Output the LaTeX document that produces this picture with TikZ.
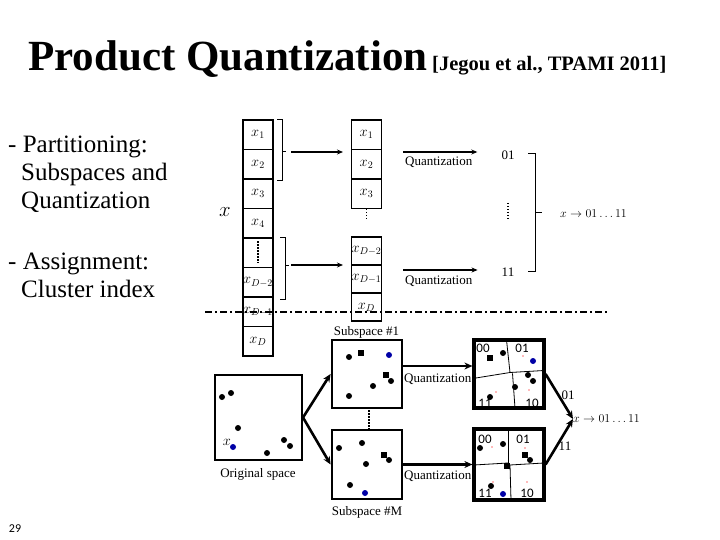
\documentclass[tikz,border=0pt]{standalone}
\usepackage{fontspec}
\setmainfont{Liberation Serif}
\newfontfamily\sansf{Carlito}
\usetikzlibrary{arrows.meta}
\begin{document}
\begin{tikzpicture}[x=1pt,y=-1pt,
 cell/.style={draw, line width=1.1pt, minimum width=30pt, inner sep=0pt, font=\fontsize{14}{14}\selectfont},
 thinarrow/.style={line width=1.6pt, -{Stealth[length=6pt,width=5pt]}},
 thickarrow/.style={line width=2.6pt, -{Stealth[length=8pt,width=7pt]}},
 lbl/.style={font=\fontsize{13}{13}\selectfont, inner sep=0pt},
 slbl/.style={font=\sansf\fontsize{13}{13}\selectfont, inner sep=0pt},
 bul/.style={font=\fontsize{25}{25}\selectfont, inner sep=0pt, anchor=base west},
 vdots/.style={line width=1.6pt, dash pattern=on 1.5pt off 1.5pt},
 brk/.style={line width=1pt},
 vor/.style={line width=0.8pt},
 spacebox/.style={draw, line width=2.8pt, inner sep=0pt},
]
\useasboundingbox (0,0) rectangle (720,540);
\def\pt#1{\fill (#1) circle (3pt);}
\def\sqp#1{\fill ([xshift=-2.8pt,yshift=-2.8pt]#1) rectangle ([xshift=2.8pt,yshift=2.8pt]#1);}
\def\bp#1{\fill[blue!65!black] (#1) circle (3pt);}
\def\rp#1{\fill[red!55] (#1) circle (0.8pt);}

% title
\node[anchor=base west, font=\fontsize{43}{43}\selectfont\bfseries, inner sep=0pt] (title) at (28,71) {Product Quantization};
\node[anchor=base west, font=\fontsize{20.5}{20.5}\selectfont\bfseries, inner sep=0pt] (cite) at (432,71) {[Jegou et al., TPAMI 2011]};

% bullets
\node[bul] (b1a) at (8,153) {- Partitioning:};
\node[bul] (b1b) at (21,181) {Subspaces and};
\node[bul] (b1c) at (21,209) {Quantization};
\node[bul] (b2a) at (8,269) {- Assignment:};
\node[bul] (b2b) at (21,297) {Cluster index};

% left column
\node[cell, minimum height=29.5pt] (l1) at (258,134.75) {$x_1$};
\node[cell, minimum height=29.5pt] (l2) at (258,164.25) {$x_2$};
\node[cell, minimum height=29.5pt] (l3) at (258,193.75) {$x_3$};
\node[cell, minimum height=29.5pt] (l4) at (258,223.25) {$x_4$};
\node[cell, minimum height=29.5pt] (l5) at (258,252.75) {};
\node[cell, minimum height=29.5pt] (l6) at (258,282.25) {$x_{D-2}$};
\node[cell, minimum height=29.5pt] (l7) at (258,311.75) {$x_{D-1}$};
\node[cell, minimum height=29.5pt] (l8) at (258,341.25) {$x_D$};
\draw[vdots] (258,241) -- (258,263);
\node[font=\fontsize{20}{20}\selectfont, inner sep=0pt] (xlab) at (225,212) {$x$};

% right column
\node[cell, minimum height=29.5pt] (r1) at (366.5,134.75) {$x_1$};
\node[cell, minimum height=29.5pt] (r2) at (366.5,164.25) {$x_2$};
\node[cell, minimum height=29.5pt] (r3) at (366.5,193.75) {$x_3$};
\draw[vdots] (366.5,209) -- (366.5,221);
\node[cell, minimum height=28pt] (r4) at (366.5,251) {$x_{D-2}$};
\node[cell, minimum height=28pt] (r5) at (366.5,279) {$x_{D-1}$};
\node[cell, minimum height=28pt] (r6) at (366.5,307) {$x_D$};

% brackets and arrows
\draw[brk] (277,120) -- (282,120) -- (282,181) -- (277,181);
\draw[brk] (282,152) -- (286,152);
\coordinate (ba1) at (291,152);
\draw[thinarrow, shorten >=8pt] (ba1) -- (ba1 -| r1.west);
\draw[brk] (280,237) -- (285,237) -- (285,299) -- (280,299);
\draw[brk] (285,265) -- (289,265);
\coordinate (ba2) at (291,265);
\draw[thinarrow, shorten >=8pt] (ba2) -- (ba2 -| r5.west);

% quantization top part
\node[lbl] (c01) at (508,155) {01};
\node[lbl] (c11) at (508,272) {11};
\coordinate (qa1) at (403,152);
\coordinate (qa2) at (403,270);
\draw[thinarrow, shorten >=24pt] (qa1) -- (qa1 -| c01.west);
\draw[thinarrow, shorten >=24pt] (qa2) -- (qa2 -| c11.west);
\node[lbl, anchor=base west] (qt1) at (405,166) {Quantization};
\node[lbl, anchor=base west] (qt2) at (405,284) {Quantization};
\draw[vdots] (508,203) -- (508,221);
\draw[brk] (528,154) -- (535,154) -- (535,271) -- (528,271);
\draw[brk] (535,213) -- (542,213);
\node[lbl, anchor=west] (res1) at (560,214) {$x \rightarrow 01\ldots11$};

% dash-dot separator
\draw[line width=1.2pt, dash pattern=on 7pt off 3pt on 2pt off 3pt] (205,312) -- (608,312);

% bottom part: spaces
\node[spacebox, line width=2pt, minimum width=87pt, minimum height=85pt] (orig) at (258.5,417.5) {};
\node[lbl, anchor=base] (origt) at (258,477) {Original space};
\node[spacebox, minimum width=70pt, minimum height=68pt] (s1) at (367,374) {};
\node[lbl, anchor=base] (s1t) at (366.5,335) {Subspace \#1};
\node[spacebox, minimum width=70pt, minimum height=69pt] (sM) at (367,464.5) {};
\node[lbl, anchor=base] (sMt) at (367,515) {Subspace \#M};
\draw[vdots] (369,410) -- (369,429);

\draw[thickarrow] (orig.east) -- (s1.west);
\draw[thickarrow] (orig.east) -- (sM.west);

% points
\pt{222,397} \pt{231,393} \pt{238,428} \pt{284,440} \pt{290,446} \pt{267,453}
\bp{233,447}
\node[font=\fontsize{14}{14}\selectfont, inner sep=0pt] (xo) at (227,442) {$x$};

\pt{349,357} \pt{391,381} \pt{349,396} \pt{373,386}
\sqp{361,353} \sqp{386,375}
\bp{389,355}

\pt{339,448} \pt{362,443} \pt{389,460} \pt{366,464} \pt{350,485}
\sqp{384,455}
\bp{365,493}

% quantized boxes
\node[spacebox, line width=3.2pt, minimum width=70pt, minimum height=68pt] (q1) at (509,374) {};
\node[spacebox, line width=3.2pt, minimum width=70pt, minimum height=71pt] (q2) at (509,464.5) {};
\draw[thickarrow] ([yshift=8pt]s1.east) -- ([yshift=8pt]q1.west);
\draw[thickarrow] (sM.east) -- (q2.west);
\node[lbl, anchor=base west] (qt3) at (404,382) {Quantization};
\node[lbl, anchor=base west] (qt4) at (404,479) {Quantization};

\draw[vor] (506.5,340) -- (510,372.5);
\draw[vor] (474,378.3) -- (510,372.5) -- (544,370.5);
\draw[vor] (512.5,373.3) -- (515,408);
\draw[vor] (508,430) -- (508,463);
\draw[vor] (474,465) -- (508,463);
\draw[vor] (510,465) -- (544,463);
\draw[vor] (510,465) -- (511,500);

\sqp{490,358} \pt{503,353} \pt{528,375} \pt{533,381} \pt{515,387} \pt{490,397}
\bp{533,361}
\rp{523,356} \rp{496,392} \rp{529,390}

\pt{480,448} \pt{503,444} \pt{530,460} \pt{491,486}
\sqp{525,455} \sqp{507,466}
\bp{503,494}
\rp{492,447} \rp{525,448} \rp{493,482} \rp{527,482}

\node[slbl] (q100) at (483,348) {00};
\node[slbl] (q101) at (522,348) {01};
\node[slbl] (q111) at (485,403) {11};
\node[slbl] (q110) at (532,403) {10};
\node[slbl] (q200) at (485,439) {00};
\node[slbl] (q201) at (523,439) {01};
\node[slbl] (q211) at (485,493) {11};
\node[slbl] (q210) at (527,493) {10};

\node[lbl, anchor=west] (res2) at (573,419) {$x \rightarrow 01\ldots11$};
\draw[thickarrow] (q1.east) -- (res2.west);
\draw[thickarrow] (q2.east) -- (res2.west);
\node[lbl] (o01) at (568,395) {01};
\node[lbl] (o11) at (565,446) {11};

\node[font=\sansf\fontsize{12}{12}\selectfont, inner sep=0pt] (pg) at (15,529) {29};
\end{tikzpicture}
\end{document}
